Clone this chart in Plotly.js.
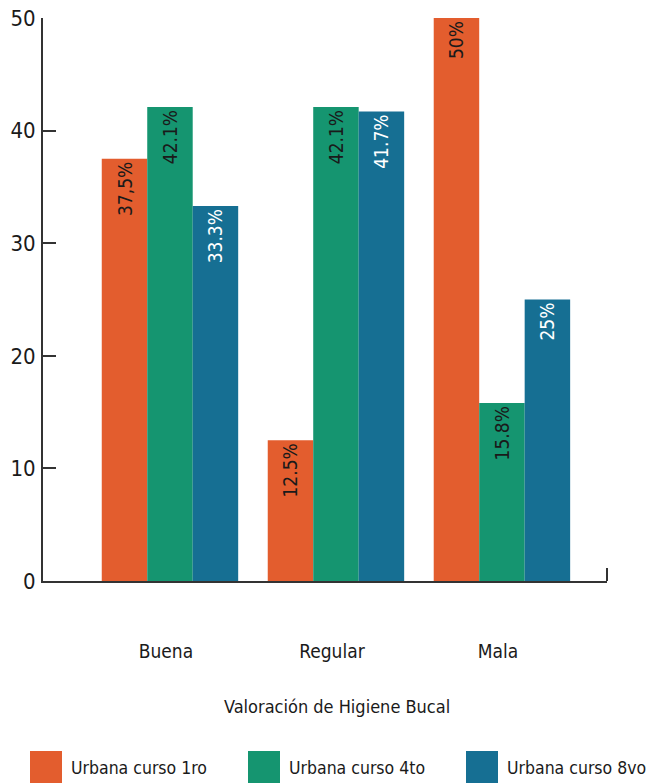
<!DOCTYPE html>
<html>
<head>
<meta charset="utf-8">
<script src="https://cdn.plot.ly/plotly-3.0.1.min.js"></script>
<style>html,body{margin:0;padding:0;background:#fff;}#chart{width:648px;height:783px;}</style>
</head>
<body>
<div id="chart"></div>
<script>
const categories = ["Buena", "Regular", "Mala"];
const seriesNames = ["Urbana curso 1ro", "Urbana curso 4to", "Urbana curso 8vo"];
const curso1ro = [37.5, 12.5, 50];
const curso4to = [42.1, 42.1, 15.8];
const curso8vo = [33.3, 41.7, 25];
const labels1ro = ["37,5%", "12.5%", "50%"];
const labels4to = ["42.1%", "42.1%", "15.8%"];
const labels8vo = ["33.3%", "41.7%", "25%"];
const yTicks = [0, 10, 20, 30, 40, 50];
const xTitle = "Valoración de Higiene Bucal";

const colors = ["#E35D2E", "#159570", "#166F93"];
const textColors = ["#1a1a1a", "#1a1a1a", "#ffffff"];
const FONT = "DejaVu Sans Condensed, Liberation Sans Narrow, Arial Narrow, sans-serif";

const values = [curso1ro, curso4to, curso8vo];
const labels = [labels1ro, labels4to, labels8vo];

const traces = values.map((v, i) => ({
  type: "bar",
  name: seriesNames[i],
  x: categories,
  y: v,
  text: labels[i],
  textposition: "inside",
  insidetextanchor: "end",
  textangle: -90,
  constraintext: "none",
  textfont: {family: FONT, size: 19, color: textColors[i]},
  marker: {color: colors[i], line: {width: 0}},
  hoverinfo: "skip",
  showlegend: false
}));

// plot area in pixels
const L = 43, R = 607, T = 18, B = 581;
const px = x => (x - L) / (R - L);
const py = y => (B - y) / (B - T);

const shapes = [
  // small upward tick at the right end of the x axis
  {type: "line", xref: "paper", yref: "paper", x0: 1, x1: 1, y0: 0, y1: py(568),
   line: {color: "#333", width: 2}}
];
const annotations = [
  {xref: "paper", yref: "paper", x: px(337), y: py(706), text: xTitle, showarrow: false,
   xanchor: "center", yanchor: "middle", font: {family: FONT, size: 18, color: "#1a1a1a"}}
];
const legBoxX = [30, 248, 466];
seriesNames.forEach((n, i) => {
  shapes.push({type: "rect", xref: "paper", yref: "paper",
    x0: px(legBoxX[i]), x1: px(legBoxX[i] + 32), y0: py(751), y1: py(784),
    fillcolor: colors[i], line: {width: 0}});
  annotations.push({xref: "paper", yref: "paper", x: px(legBoxX[i] + 39), y: py(768),
    text: n, showarrow: false, xanchor: "left", yanchor: "middle",
    font: {family: FONT, size: 17.5, color: "#1a1a1a"}});
});

const layout = {
  width: 648, height: 783,
  margin: {l: L, r: 648 - R, t: T, b: 783 - B, pad: 0},
  paper_bgcolor: "#fff", plot_bgcolor: "#fff",
  barmode: "group", bargap: 0.178, bargroupgap: 0,
  showlegend: false,
  font: {family: FONT, color: "#1a1a1a"},
  xaxis: {
    type: "category", range: [-0.765, 2.633],
    showgrid: false, zeroline: false,
    showline: true, linecolor: "#333", linewidth: 2,
    ticks: "", ticklabelstandoff: 52, ticklabelshift: -4,
    tickfont: {family: FONT, size: 19, color: "#1a1a1a"},
    fixedrange: true
  },
  yaxis: {
    range: [0, 50], tickvals: yTicks, ticktext: yTicks.map(String),
    showgrid: false, zeroline: false,
    showline: true, linecolor: "#333", linewidth: 2,
    ticks: "inside", ticklen: 13, tickwidth: 2, tickcolor: "#333",
    tickfont: {family: FONT, size: 22, color: "#1a1a1a"},
    ticklabelstandoff: 1,
    fixedrange: true
  },
  shapes: shapes,
  annotations: annotations
};

Plotly.newPlot("chart", traces, layout, {displayModeBar: false, staticPlot: true});
</script>
</body>
</html>
